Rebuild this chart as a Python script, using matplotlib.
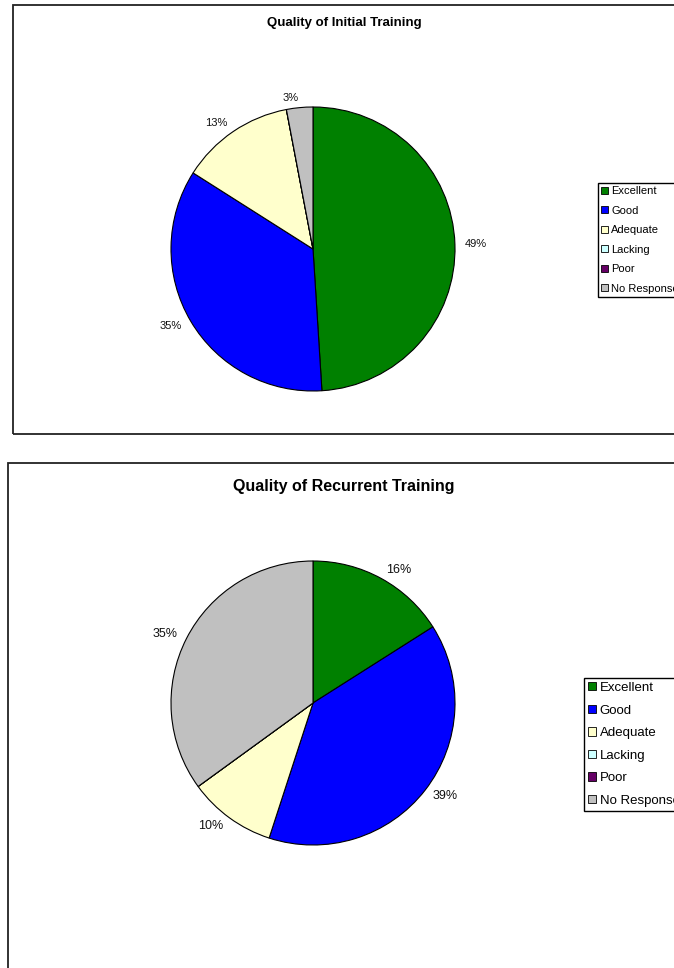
import matplotlib.pyplot as plt
from matplotlib.patches import Rectangle, Patch

plt.rcParams['font.family'] = ['Liberation Sans', 'DejaVu Sans']

# data
categories = ["Excellent", "Good", "Adequate", "Lacking", "Poor", "No Response"]
colors = ["#008000", "#0000FF", "#FFFFCC", "#CCFFFF", "#660066", "#C0C0C0"]
initial_pct = [49, 35, 13, 0, 0, 3]
recurrent_pct = [16, 39, 10, 0, 0, 35]

W, H = 674, 968
fig = plt.figure(figsize=(W / 100, H / 100), dpi=100)


def px(x, y):
    # pixel (from top-left) -> figure fraction
    return x / W, 1 - y / H


def box(x0, y0, x1, y1):
    fx0, fy1 = px(x0, y0)
    fx1, fy0 = px(x1, y1)
    fig.add_artist(Rectangle((fx0, fy0), fx1 - fx0, fy1 - fy0, transform=fig.transFigure,
                             fill=False, edgecolor="#222222", linewidth=1.3, clip_on=False))


def pie_chart(values, title, cx, cy, r, title_y, title_fs, lab_fs,
              leg_x, leg_y, leg_fs, leg_space):
    span = 1.3
    x0, y1 = px(cx - span * r, cy - span * r)
    x1, y0 = px(cx + span * r, cy + span * r)
    ax = fig.add_axes([x0, y0, x1 - x0, y1 - y0])
    labels = [f"{v}%" if v else "" for v in values]
    ax.pie(values, colors=colors, labels=labels, startangle=90, counterclock=False,
           labeldistance=1.07, wedgeprops=dict(edgecolor="black", linewidth=0.8),
           textprops=dict(fontsize=lab_fs, color="#111111"))
    ax.set_xlim(-span, span)
    ax.set_ylim(-span, span)
    ax.set_aspect("equal")
    tx, ty = px(344, title_y)
    fig.text(tx, ty, title, ha="center", va="center", fontsize=title_fs, fontweight="bold")
    handles = [Patch(facecolor=c, edgecolor="black", linewidth=0.6) for c in colors]
    lx, ly = px(leg_x, leg_y)
    fig.legend(handles, categories, loc="upper left", bbox_to_anchor=(lx, ly),
               fontsize=leg_fs, frameon=True, fancybox=False, edgecolor="black",
               handlelength=0.6, handleheight=0.6, handletextpad=0.3,
               labelspacing=leg_space, borderpad=0.3, borderaxespad=0, framealpha=1)


box(13, 5, 700, 434)
box(8, 463, 700, 1000)

pie_chart(initial_pct, "Quality of Initial Training", 313, 249, 142, 23, 9.5, 8,
          598, 183, 8, 0.85)
pie_chart(recurrent_pct, "Quality of Recurrent Training", 313, 703, 142, 487, 11.5, 9,
          584, 678, 9.5, 0.8)

fig.savefig("out.png", dpi=100)
